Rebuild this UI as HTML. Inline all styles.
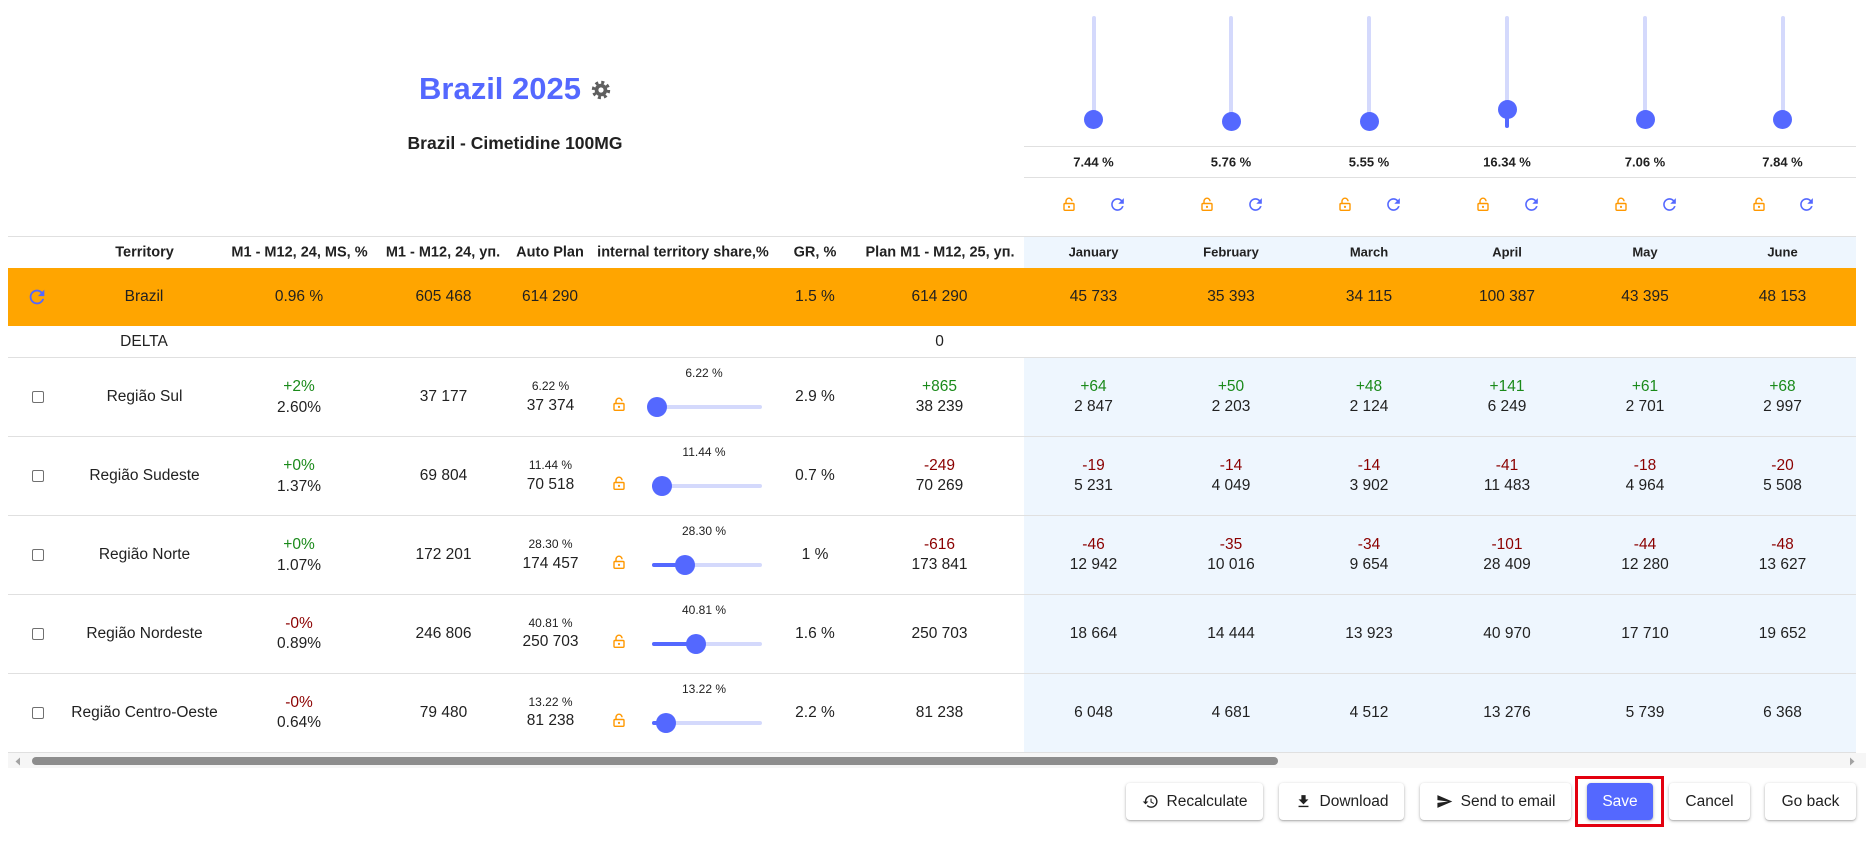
<!DOCTYPE html>
<html><head><meta charset="utf-8">
<style>
*{margin:0;padding:0;box-sizing:border-box}
html,body{width:1874px;height:849px;overflow:hidden;background:#fff;font-family:"Liberation Sans",Arial,sans-serif;color:#212121}
.a{position:absolute}
.c{position:absolute;transform:translate(-50%,-50%);white-space:nowrap;line-height:1.15;font-size:15.5px}
.h{font-weight:bold;font-size:14.5px}
.mh{font-weight:bold;font-size:13px}
.s{font-size:12px}
.g{color:#1a8a1a}
.r{color:#8b0000}
.ln{position:absolute;height:1px;background:#e0e0e0}
.cb{position:absolute;width:12px;height:12px;border:1.5px solid #707070;border-radius:2px;background:#fff}
.tr{position:absolute;height:4px;background:#d4d9fc;border-radius:2px}
.ac{position:absolute;height:4px;background:#5468ff;border-radius:2px}
.th{position:absolute;width:20px;height:20px;border-radius:50%;background:#5468ff}
.btn{position:absolute;top:783px;height:37px;background:#fff;border-radius:4px;box-shadow:0 1px 3px rgba(0,0,0,.28),0 1px 1px rgba(0,0,0,.12);font-size:15.5px;color:#212121;display:flex;align-items:center;justify-content:center;white-space:nowrap}
.btn svg{margin-right:8px}
</style></head><body>

<!-- Title -->
<div class="c" style="left:500px;top:89px;font-size:31px;font-weight:bold;color:#5468ff">Brazil 2025</div>
<svg class="a" style="left:591px;top:80px" width="20" height="20" viewBox="0 0 20 20">
<circle cx="10" cy="10" r="7.6" fill="none" stroke="#5f5f5f" stroke-width="3.2" stroke-dasharray="3 2.97"/>
<circle cx="10" cy="10" r="6.3" fill="#5f5f5f"/><circle cx="10" cy="10" r="2.6" fill="#fff"/></svg>
<div class="c" style="left:515px;top:143px;font-size:17.5px;font-weight:bold">Brazil - Cimetidine 100MG</div>

<!-- Top vertical sliders -->
<div class="tr" style="left:1091.5px;top:16px;width:4px;height:112px"></div>
<div class="tr" style="left:1229px;top:16px;width:4px;height:112px"></div>
<div class="tr" style="left:1367px;top:16px;width:4px;height:112px"></div>
<div class="tr" style="left:1505px;top:16px;width:4px;height:112px"></div>
<div class="tr" style="left:1643px;top:16px;width:4px;height:112px"></div>
<div class="tr" style="left:1780.5px;top:16px;width:4px;height:112px"></div>
<div class="ac" style="left:1505px;top:110px;width:4px;height:18px"></div>
<div class="th" style="left:1083.5px;top:110px;width:19px;height:19px"></div>
<div class="th" style="left:1221.5px;top:112px;width:19px;height:19px"></div>
<div class="th" style="left:1359.5px;top:112px;width:19px;height:19px"></div>
<div class="th" style="left:1497.5px;top:100px;width:19px;height:19px"></div>
<div class="th" style="left:1635.5px;top:110px;width:19px;height:19px"></div>
<div class="th" style="left:1773px;top:109.5px;width:19px;height:19px"></div>

<div class="ln" style="left:1024px;top:146px;width:832px"></div>
<div class="ln" style="left:1024px;top:177px;width:832px"></div>
<div class="c mh" style="left:1093.5px;top:163px">7.44 %</div>
<div class="c mh" style="left:1231px;top:163px">5.76 %</div>
<div class="c mh" style="left:1369px;top:163px">5.55 %</div>
<div class="c mh" style="left:1507px;top:163px">16.34 %</div>
<div class="c mh" style="left:1645px;top:163px">7.06 %</div>
<div class="c mh" style="left:1782.5px;top:163px">7.84 %</div>

<!-- top icons -->
<svg class="a" style="left:1063px;top:197px" width="12" height="14" viewBox="0 0 12 14"><path d="M3 6.5V4.2a3 3 0 0 1 6 0" fill="none" stroke="#ff9800" stroke-width="1.4"/><rect x="1" y="6.5" width="10" height="6.8" rx="1" fill="none" stroke="#ff9800" stroke-width="1.4"/><circle cx="6" cy="9.9" r="1.1" fill="#ff9800"/></svg>
<svg class="a" style="left:1108px;top:195px" width="19" height="19" viewBox="0 0 24 24"><path fill="#5468ff" d="M17.65 6.35C16.2 4.9 14.21 4 12 4c-4.42 0-7.99 3.58-7.99 8s3.57 8 7.99 8c3.73 0 6.84-2.55 7.73-6h-2.08c-.82 2.33-3.04 4-5.65 4-3.31 0-6-2.69-6-6s2.69-6 6-6c1.66 0 3.14.69 4.22 1.78L13 11h7V4l-2.35 2.35z"/></svg>
<svg class="a" style="left:1201px;top:197px" width="12" height="14" viewBox="0 0 12 14"><path d="M3 6.5V4.2a3 3 0 0 1 6 0" fill="none" stroke="#ff9800" stroke-width="1.4"/><rect x="1" y="6.5" width="10" height="6.8" rx="1" fill="none" stroke="#ff9800" stroke-width="1.4"/><circle cx="6" cy="9.9" r="1.1" fill="#ff9800"/></svg>
<svg class="a" style="left:1245.5px;top:195px" width="19" height="19" viewBox="0 0 24 24"><path fill="#5468ff" d="M17.65 6.35C16.2 4.9 14.21 4 12 4c-4.42 0-7.99 3.58-7.99 8s3.57 8 7.99 8c3.73 0 6.84-2.55 7.73-6h-2.08c-.82 2.33-3.04 4-5.65 4-3.31 0-6-2.69-6-6s2.69-6 6-6c1.66 0 3.14.69 4.22 1.78L13 11h7V4l-2.35 2.35z"/></svg>
<svg class="a" style="left:1339px;top:197px" width="12" height="14" viewBox="0 0 12 14"><path d="M3 6.5V4.2a3 3 0 0 1 6 0" fill="none" stroke="#ff9800" stroke-width="1.4"/><rect x="1" y="6.5" width="10" height="6.8" rx="1" fill="none" stroke="#ff9800" stroke-width="1.4"/><circle cx="6" cy="9.9" r="1.1" fill="#ff9800"/></svg>
<svg class="a" style="left:1383.5px;top:195px" width="19" height="19" viewBox="0 0 24 24"><path fill="#5468ff" d="M17.65 6.35C16.2 4.9 14.21 4 12 4c-4.42 0-7.99 3.58-7.99 8s3.57 8 7.99 8c3.73 0 6.84-2.55 7.73-6h-2.08c-.82 2.33-3.04 4-5.65 4-3.31 0-6-2.69-6-6s2.69-6 6-6c1.66 0 3.14.69 4.22 1.78L13 11h7V4l-2.35 2.35z"/></svg>
<svg class="a" style="left:1477px;top:197px" width="12" height="14" viewBox="0 0 12 14"><path d="M3 6.5V4.2a3 3 0 0 1 6 0" fill="none" stroke="#ff9800" stroke-width="1.4"/><rect x="1" y="6.5" width="10" height="6.8" rx="1" fill="none" stroke="#ff9800" stroke-width="1.4"/><circle cx="6" cy="9.9" r="1.1" fill="#ff9800"/></svg>
<svg class="a" style="left:1521.5px;top:195px" width="19" height="19" viewBox="0 0 24 24"><path fill="#5468ff" d="M17.65 6.35C16.2 4.9 14.21 4 12 4c-4.42 0-7.99 3.58-7.99 8s3.57 8 7.99 8c3.73 0 6.84-2.55 7.73-6h-2.08c-.82 2.33-3.04 4-5.65 4-3.31 0-6-2.69-6-6s2.69-6 6-6c1.66 0 3.14.69 4.22 1.78L13 11h7V4l-2.35 2.35z"/></svg>
<svg class="a" style="left:1615px;top:197px" width="12" height="14" viewBox="0 0 12 14"><path d="M3 6.5V4.2a3 3 0 0 1 6 0" fill="none" stroke="#ff9800" stroke-width="1.4"/><rect x="1" y="6.5" width="10" height="6.8" rx="1" fill="none" stroke="#ff9800" stroke-width="1.4"/><circle cx="6" cy="9.9" r="1.1" fill="#ff9800"/></svg>
<svg class="a" style="left:1659.5px;top:195px" width="19" height="19" viewBox="0 0 24 24"><path fill="#5468ff" d="M17.65 6.35C16.2 4.9 14.21 4 12 4c-4.42 0-7.99 3.58-7.99 8s3.57 8 7.99 8c3.73 0 6.84-2.55 7.73-6h-2.08c-.82 2.33-3.04 4-5.65 4-3.31 0-6-2.69-6-6s2.69-6 6-6c1.66 0 3.14.69 4.22 1.78L13 11h7V4l-2.35 2.35z"/></svg>
<svg class="a" style="left:1752.5px;top:197px" width="12" height="14" viewBox="0 0 12 14"><path d="M3 6.5V4.2a3 3 0 0 1 6 0" fill="none" stroke="#ff9800" stroke-width="1.4"/><rect x="1" y="6.5" width="10" height="6.8" rx="1" fill="none" stroke="#ff9800" stroke-width="1.4"/><circle cx="6" cy="9.9" r="1.1" fill="#ff9800"/></svg>
<svg class="a" style="left:1797px;top:195px" width="19" height="19" viewBox="0 0 24 24"><path fill="#5468ff" d="M17.65 6.35C16.2 4.9 14.21 4 12 4c-4.42 0-7.99 3.58-7.99 8s3.57 8 7.99 8c3.73 0 6.84-2.55 7.73-6h-2.08c-.82 2.33-3.04 4-5.65 4-3.31 0-6-2.69-6-6s2.69-6 6-6c1.66 0 3.14.69 4.22 1.78L13 11h7V4l-2.35 2.35z"/></svg>

<!-- Table backgrounds -->
<div class="a" style="left:1024px;top:237px;width:832px;height:31px;background:#eef6fe"></div>
<div class="a" style="left:8px;top:268px;width:1848px;height:58px;background:#ffa500"></div>
<div class="a" style="left:1024px;top:357px;width:832px;height:395px;background:#eef6fe"></div>

<div class="ln" style="left:8px;top:236px;width:1848px"></div>
<div class="ln" style="left:8px;top:357px;width:1848px"></div>
<div class="ln" style="left:8px;top:436px;width:1848px"></div>
<div class="ln" style="left:8px;top:515px;width:1848px"></div>
<div class="ln" style="left:8px;top:594px;width:1848px"></div>
<div class="ln" style="left:8px;top:673px;width:1848px"></div>
<div class="ln" style="left:8px;top:752px;width:1848px"></div>

<!-- Header -->
<div class="c h" style="left:144.5px;top:253px">Territory</div>
<div class="c h" style="left:299.5px;top:253px">M1 - M12, 24, MS, %</div>
<div class="c h" style="left:443px;top:253px">M1 - M12, 24, уп.</div>
<div class="c h" style="left:550px;top:253px">Auto Plan</div>
<div class="c h" style="left:683px;top:253px">internal territory share,%</div>
<div class="c h" style="left:815px;top:253px">GR, %</div>
<div class="c h" style="left:940px;top:253px">Plan M1 - M12, 25, уп.</div>
<div class="c mh" style="left:1093.5px;top:253px">January</div>
<div class="c mh" style="left:1231px;top:253px">February</div>
<div class="c mh" style="left:1369px;top:253px">March</div>
<div class="c mh" style="left:1507px;top:253px">April</div>
<div class="c mh" style="left:1645px;top:253px">May</div>
<div class="c mh" style="left:1782.5px;top:253px">June</div>

<!-- Brazil row -->
<svg class="a" style="left:26px;top:286px" width="22" height="22" viewBox="0 0 24 24"><path fill="#5468ff" d="M17.65 6.35C16.2 4.9 14.21 4 12 4c-4.42 0-7.99 3.58-7.99 8s3.57 8 7.99 8c3.73 0 6.84-2.55 7.73-6h-2.08c-.82 2.33-3.04 4-5.65 4-3.31 0-6-2.69-6-6s2.69-6 6-6c1.66 0 3.14.69 4.22 1.78L13 11h7V4l-2.35 2.35z"/></svg>
<div class="c" style="left:144px;top:297px">Brazil</div>
<div class="c" style="left:299px;top:297px">0.96 %</div>
<div class="c" style="left:443.5px;top:297px">605 468</div>
<div class="c" style="left:550px;top:297px">614 290</div>
<div class="c" style="left:815px;top:297px">1.5 %</div>
<div class="c" style="left:939.5px;top:297px">614 290</div>
<div class="c" style="left:1093.5px;top:297px">45 733</div>
<div class="c" style="left:1231px;top:297px">35 393</div>
<div class="c" style="left:1369px;top:297px">34 115</div>
<div class="c" style="left:1507px;top:297px">100 387</div>
<div class="c" style="left:1645px;top:297px">43 395</div>
<div class="c" style="left:1782.5px;top:297px">48 153</div>

<!-- DELTA -->
<div class="c" style="left:144px;top:342px">DELTA</div>
<div class="c" style="left:939.5px;top:342px">0</div>

<!-- Row 1 T=357 -->
<div class="cb" style="left:32px;top:391px"></div>
<div class="c" style="left:144.5px;top:397px">Região Sul</div>
<div class="c g" style="left:299px;top:387px">+2%</div>
<div class="c" style="left:299px;top:407.5px">2.60%</div>
<div class="c" style="left:443.5px;top:397px">37 177</div>
<div class="c s" style="left:550.5px;top:387px">6.22 %</div>
<div class="c" style="left:550.5px;top:405.5px">37 374</div>
<svg class="a" style="left:613px;top:397px" width="12" height="14" viewBox="0 0 12 14"><path d="M3 6.5V4.2a3 3 0 0 1 6 0" fill="none" stroke="#ff9800" stroke-width="1.4"/><rect x="1" y="6.5" width="10" height="6.8" rx="1" fill="none" stroke="#ff9800" stroke-width="1.4"/><circle cx="6" cy="9.9" r="1.1" fill="#ff9800"/></svg>
<div class="c s" style="left:704px;top:374px">6.22 %</div>
<div class="tr" style="left:652px;top:405px;width:110px"></div>
<div class="ac" style="left:652px;top:405px;width:5px"></div>
<div class="th" style="left:647px;top:397px"></div>
<div class="c" style="left:815px;top:397px">2.9 %</div>
<div class="c g" style="left:939.5px;top:387px">+865</div>
<div class="c" style="left:939.5px;top:407px">38 239</div>
<div class="c g" style="left:1093.5px;top:387px">+64</div><div class="c" style="left:1093.5px;top:407px">2 847</div>
<div class="c g" style="left:1231px;top:387px">+50</div><div class="c" style="left:1231px;top:407px">2 203</div>
<div class="c g" style="left:1369px;top:387px">+48</div><div class="c" style="left:1369px;top:407px">2 124</div>
<div class="c g" style="left:1507px;top:387px">+141</div><div class="c" style="left:1507px;top:407px">6 249</div>
<div class="c g" style="left:1645px;top:387px">+61</div><div class="c" style="left:1645px;top:407px">2 701</div>
<div class="c g" style="left:1782.5px;top:387px">+68</div><div class="c" style="left:1782.5px;top:407px">2 997</div>

<!-- Row 2 T=436 -->
<div class="cb" style="left:32px;top:470px"></div>
<div class="c" style="left:144.5px;top:476px">Região Sudeste</div>
<div class="c g" style="left:299px;top:466px">+0%</div>
<div class="c" style="left:299px;top:486.5px">1.37%</div>
<div class="c" style="left:443.5px;top:476px">69 804</div>
<div class="c s" style="left:550.5px;top:466px">11.44 %</div>
<div class="c" style="left:550.5px;top:484.5px">70 518</div>
<svg class="a" style="left:613px;top:476px" width="12" height="14" viewBox="0 0 12 14"><path d="M3 6.5V4.2a3 3 0 0 1 6 0" fill="none" stroke="#ff9800" stroke-width="1.4"/><rect x="1" y="6.5" width="10" height="6.8" rx="1" fill="none" stroke="#ff9800" stroke-width="1.4"/><circle cx="6" cy="9.9" r="1.1" fill="#ff9800"/></svg>
<div class="c s" style="left:704px;top:453px">11.44 %</div>
<div class="tr" style="left:652px;top:484px;width:110px"></div>
<div class="ac" style="left:652px;top:484px;width:10px"></div>
<div class="th" style="left:652px;top:476px"></div>
<div class="c" style="left:815px;top:476px">0.7 %</div>
<div class="c r" style="left:939.5px;top:466px">-249</div>
<div class="c" style="left:939.5px;top:486px">70 269</div>
<div class="c r" style="left:1093.5px;top:466px">-19</div><div class="c" style="left:1093.5px;top:486px">5 231</div>
<div class="c r" style="left:1231px;top:466px">-14</div><div class="c" style="left:1231px;top:486px">4 049</div>
<div class="c r" style="left:1369px;top:466px">-14</div><div class="c" style="left:1369px;top:486px">3 902</div>
<div class="c r" style="left:1507px;top:466px">-41</div><div class="c" style="left:1507px;top:486px">11 483</div>
<div class="c r" style="left:1645px;top:466px">-18</div><div class="c" style="left:1645px;top:486px">4 964</div>
<div class="c r" style="left:1782.5px;top:466px">-20</div><div class="c" style="left:1782.5px;top:486px">5 508</div>

<!-- Row 3 T=515 -->
<div class="cb" style="left:32px;top:549px"></div>
<div class="c" style="left:144.5px;top:555px">Região Norte</div>
<div class="c g" style="left:299px;top:545px">+0%</div>
<div class="c" style="left:299px;top:565.5px">1.07%</div>
<div class="c" style="left:443.5px;top:555px">172 201</div>
<div class="c s" style="left:550.5px;top:545px">28.30 %</div>
<div class="c" style="left:550.5px;top:563.5px">174 457</div>
<svg class="a" style="left:613px;top:555px" width="12" height="14" viewBox="0 0 12 14"><path d="M3 6.5V4.2a3 3 0 0 1 6 0" fill="none" stroke="#ff9800" stroke-width="1.4"/><rect x="1" y="6.5" width="10" height="6.8" rx="1" fill="none" stroke="#ff9800" stroke-width="1.4"/><circle cx="6" cy="9.9" r="1.1" fill="#ff9800"/></svg>
<div class="c s" style="left:704px;top:532px">28.30 %</div>
<div class="tr" style="left:652px;top:563px;width:110px"></div>
<div class="ac" style="left:652px;top:563px;width:33px"></div>
<div class="th" style="left:675px;top:555px"></div>
<div class="c" style="left:815px;top:555px">1 %</div>
<div class="c r" style="left:939.5px;top:545px">-616</div>
<div class="c" style="left:939.5px;top:565px">173 841</div>
<div class="c r" style="left:1093.5px;top:545px">-46</div><div class="c" style="left:1093.5px;top:565px">12 942</div>
<div class="c r" style="left:1231px;top:545px">-35</div><div class="c" style="left:1231px;top:565px">10 016</div>
<div class="c r" style="left:1369px;top:545px">-34</div><div class="c" style="left:1369px;top:565px">9 654</div>
<div class="c r" style="left:1507px;top:545px">-101</div><div class="c" style="left:1507px;top:565px">28 409</div>
<div class="c r" style="left:1645px;top:545px">-44</div><div class="c" style="left:1645px;top:565px">12 280</div>
<div class="c r" style="left:1782.5px;top:545px">-48</div><div class="c" style="left:1782.5px;top:565px">13 627</div>

<!-- Row 4 T=594 -->
<div class="cb" style="left:32px;top:628px"></div>
<div class="c" style="left:144.5px;top:634px">Região Nordeste</div>
<div class="c r" style="left:299px;top:623.5px">-0%</div>
<div class="c" style="left:299px;top:644px">0.89%</div>
<div class="c" style="left:443.5px;top:634px">246 806</div>
<div class="c s" style="left:550.5px;top:624px">40.81 %</div>
<div class="c" style="left:550.5px;top:642px">250 703</div>
<svg class="a" style="left:613px;top:634px" width="12" height="14" viewBox="0 0 12 14"><path d="M3 6.5V4.2a3 3 0 0 1 6 0" fill="none" stroke="#ff9800" stroke-width="1.4"/><rect x="1" y="6.5" width="10" height="6.8" rx="1" fill="none" stroke="#ff9800" stroke-width="1.4"/><circle cx="6" cy="9.9" r="1.1" fill="#ff9800"/></svg>
<div class="c s" style="left:704px;top:611px">40.81 %</div>
<div class="tr" style="left:652px;top:642px;width:110px"></div>
<div class="ac" style="left:652px;top:642px;width:44px"></div>
<div class="th" style="left:686px;top:634px"></div>
<div class="c" style="left:815px;top:634px">1.6 %</div>
<div class="c" style="left:939.5px;top:633.5px">250 703</div>
<div class="c" style="left:1093.5px;top:634px">18 664</div>
<div class="c" style="left:1231px;top:634px">14 444</div>
<div class="c" style="left:1369px;top:634px">13 923</div>
<div class="c" style="left:1507px;top:634px">40 970</div>
<div class="c" style="left:1645px;top:634px">17 710</div>
<div class="c" style="left:1782.5px;top:634px">19 652</div>

<!-- Row 5 T=673 -->
<div class="cb" style="left:32px;top:707px"></div>
<div class="c" style="left:144.5px;top:713px">Região Centro-Oeste</div>
<div class="c r" style="left:299px;top:702.5px">-0%</div>
<div class="c" style="left:299px;top:723px">0.64%</div>
<div class="c" style="left:443.5px;top:713px">79 480</div>
<div class="c s" style="left:550.5px;top:703px">13.22 %</div>
<div class="c" style="left:550.5px;top:721px">81 238</div>
<svg class="a" style="left:613px;top:713px" width="12" height="14" viewBox="0 0 12 14"><path d="M3 6.5V4.2a3 3 0 0 1 6 0" fill="none" stroke="#ff9800" stroke-width="1.4"/><rect x="1" y="6.5" width="10" height="6.8" rx="1" fill="none" stroke="#ff9800" stroke-width="1.4"/><circle cx="6" cy="9.9" r="1.1" fill="#ff9800"/></svg>
<div class="c s" style="left:704px;top:690px">13.22 %</div>
<div class="tr" style="left:652px;top:721px;width:110px"></div>
<div class="ac" style="left:652px;top:721px;width:14px"></div>
<div class="th" style="left:656px;top:713px"></div>
<div class="c" style="left:815px;top:713px">2.2 %</div>
<div class="c" style="left:939.5px;top:712.5px">81 238</div>
<div class="c" style="left:1093.5px;top:713px">6 048</div>
<div class="c" style="left:1231px;top:713px">4 681</div>
<div class="c" style="left:1369px;top:713px">4 512</div>
<div class="c" style="left:1507px;top:713px">13 276</div>
<div class="c" style="left:1645px;top:713px">5 739</div>
<div class="c" style="left:1782.5px;top:713px">6 368</div>

<!-- Scrollbar -->
<div class="a" style="left:8px;top:753px;width:1858px;height:15px;background:#f6f6f6"></div>
<svg class="a" style="left:14px;top:757px" width="8" height="9" viewBox="0 0 8 9"><path d="M6 0.5 L1.5 4.5 L6 8.5z" fill="#a3a3a3"/></svg>
<svg class="a" style="left:1848px;top:757px" width="8" height="9" viewBox="0 0 8 9"><path d="M2 0.5 L6.5 4.5 L2 8.5z" fill="#a3a3a3"/></svg>
<div class="a" style="left:32px;top:757px;width:1246px;height:8px;border-radius:4px;background:#8d8d8d"></div>

<!-- Buttons -->
<div class="btn" style="left:1126px;width:137px"><svg width="17" height="17" viewBox="0 0 24 24"><path fill="#212121" d="M13 3c-4.97 0-9 4.03-9 9H1l3.89 3.89.07.14L9 12H6c0-3.87 3.13-7 7-7s7 3.13 7 7-3.13 7-7 7c-1.93 0-3.680-.79-4.94-2.06l-1.42 1.42C8.27 19.99 10.51 21 13 21c4.97 0 9-4.03 9-9s-4.03-9-9-9zm-1 5v5l4.28 2.54.72-1.21-3.5-2.08V8H12z"/></svg>Recalculate</div>
<div class="btn" style="left:1279px;width:125px"><svg width="17" height="17" viewBox="0 0 24 24"><path fill="#212121" d="M5 20h14v-2H5v2zM19 9h-4V3H9v6H5l7 7 7-7z"/></svg>Download</div>
<div class="btn" style="left:1420px;width:151px"><svg width="17" height="17" viewBox="0 0 24 24"><path fill="#212121" d="M2.01 21L23 12 2.01 3 2 10l15 2-15 2z"/></svg>Send to email</div>
<div class="a" style="left:1575px;top:776px;width:89px;height:51px;border:3px solid #e3000f"></div>
<div class="btn" style="left:1587px;width:66px;background:#5468ff;color:#fff">Save</div>
<div class="btn" style="left:1669px;width:81px">Cancel</div>
<div class="btn" style="left:1765px;width:91px">Go back</div>

</body></html>
